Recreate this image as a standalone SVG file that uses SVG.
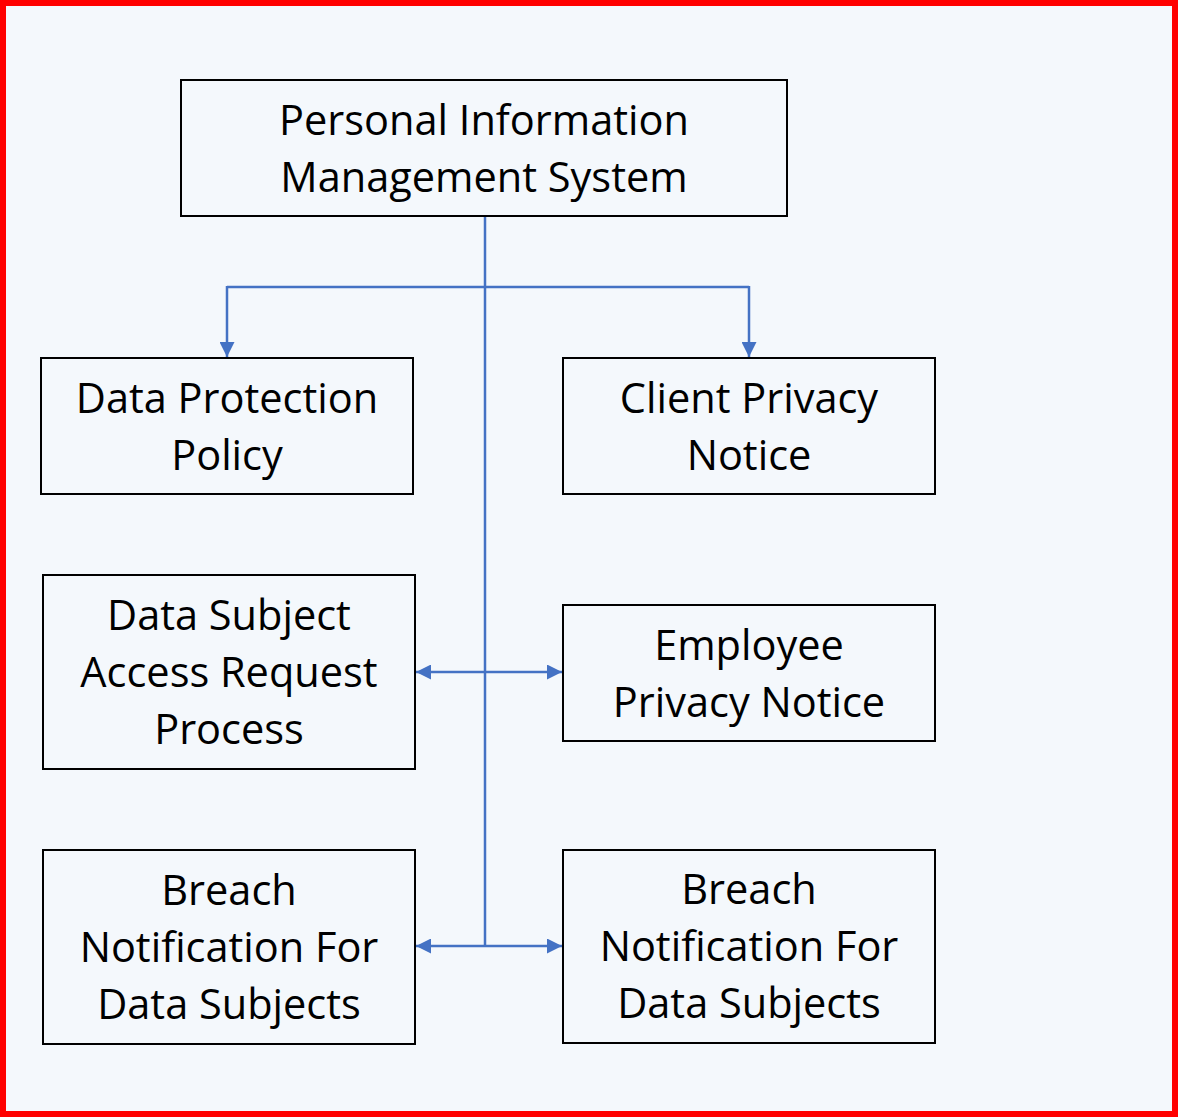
<svg xmlns="http://www.w3.org/2000/svg" width="1178" height="1117" viewBox="0 0 1178 1117">
<style>
.box{fill:#F4F8FC;stroke:#000;stroke-width:2}
.t{font-family:"Open Sans","Noto Sans",sans-serif;font-size:41.5px;fill:#000;text-anchor:middle}
.c{fill:none;stroke:#4472C4;stroke-width:2.5}
</style>
<defs>
<marker id="ah" viewBox="0 0 10 10" refX="10" refY="5" markerWidth="6" markerHeight="6" orient="auto" markerUnits="strokeWidth">
<path d="M0,0 L10,5 L0,10 z" fill="#4472C4"/>
</marker>
</defs>
<rect x="3" y="3" width="1172" height="1111" fill="#F4F8FC" stroke="#FF0000" stroke-width="6"/>
<g id="connectors">
<line class="c" x1="485" y1="216" x2="485" y2="947"/>
<path class="c" d="M227,287 H749" />
<path class="c" d="M227,286 V357" marker-end="url(#ah)"/>
<path class="c" d="M749,286 V357" marker-end="url(#ah)"/>
<path class="c" d="M485,672 H416" marker-end="url(#ah)"/>
<path class="c" d="M485,672 H562" marker-end="url(#ah)"/>
<path class="c" d="M485,946 H416" marker-end="url(#ah)"/>
<path class="c" d="M485,946 H562" marker-end="url(#ah)"/>
</g>
<g id="pims">
<rect class="box" x="181" y="80" width="606" height="136"/>
<text class="t" x="484" y="135">Personal Information</text>
<text class="t" x="484" y="192">Management System</text>
</g>
<g id="dpp">
<rect class="box" x="41" y="358" width="372" height="136"/>
<text class="t" x="227" y="413">Data Protection</text>
<text class="t" x="227" y="470">Policy</text>
</g>
<g id="cpn">
<rect class="box" x="563" y="358" width="372" height="136"/>
<text class="t" x="749" y="413">Client Privacy</text>
<text class="t" x="749" y="470">Notice</text>
</g>
<g id="dsar">
<rect class="box" x="43" y="575" width="372" height="194"/>
<text class="t" x="229" y="630">Data Subject</text>
<text class="t" x="229" y="687">Access Request</text>
<text class="t" x="229" y="744">Process</text>
</g>
<g id="epn">
<rect class="box" x="563" y="605" width="372" height="136"/>
<text class="t" x="749" y="660">Employee</text>
<text class="t" x="749" y="717">Privacy Notice</text>
</g>
<g id="bnl">
<rect class="box" x="43" y="850" width="372" height="194"/>
<text class="t" x="229" y="905">Breach</text>
<text class="t" x="229" y="962">Notification For</text>
<text class="t" x="229" y="1019">Data Subjects</text>
</g>
<g id="bnr">
<rect class="box" x="563" y="850" width="372" height="193"/>
<text class="t" x="749" y="904">Breach</text>
<text class="t" x="749" y="961">Notification For</text>
<text class="t" x="749" y="1018">Data Subjects</text>
</g>
</svg>
